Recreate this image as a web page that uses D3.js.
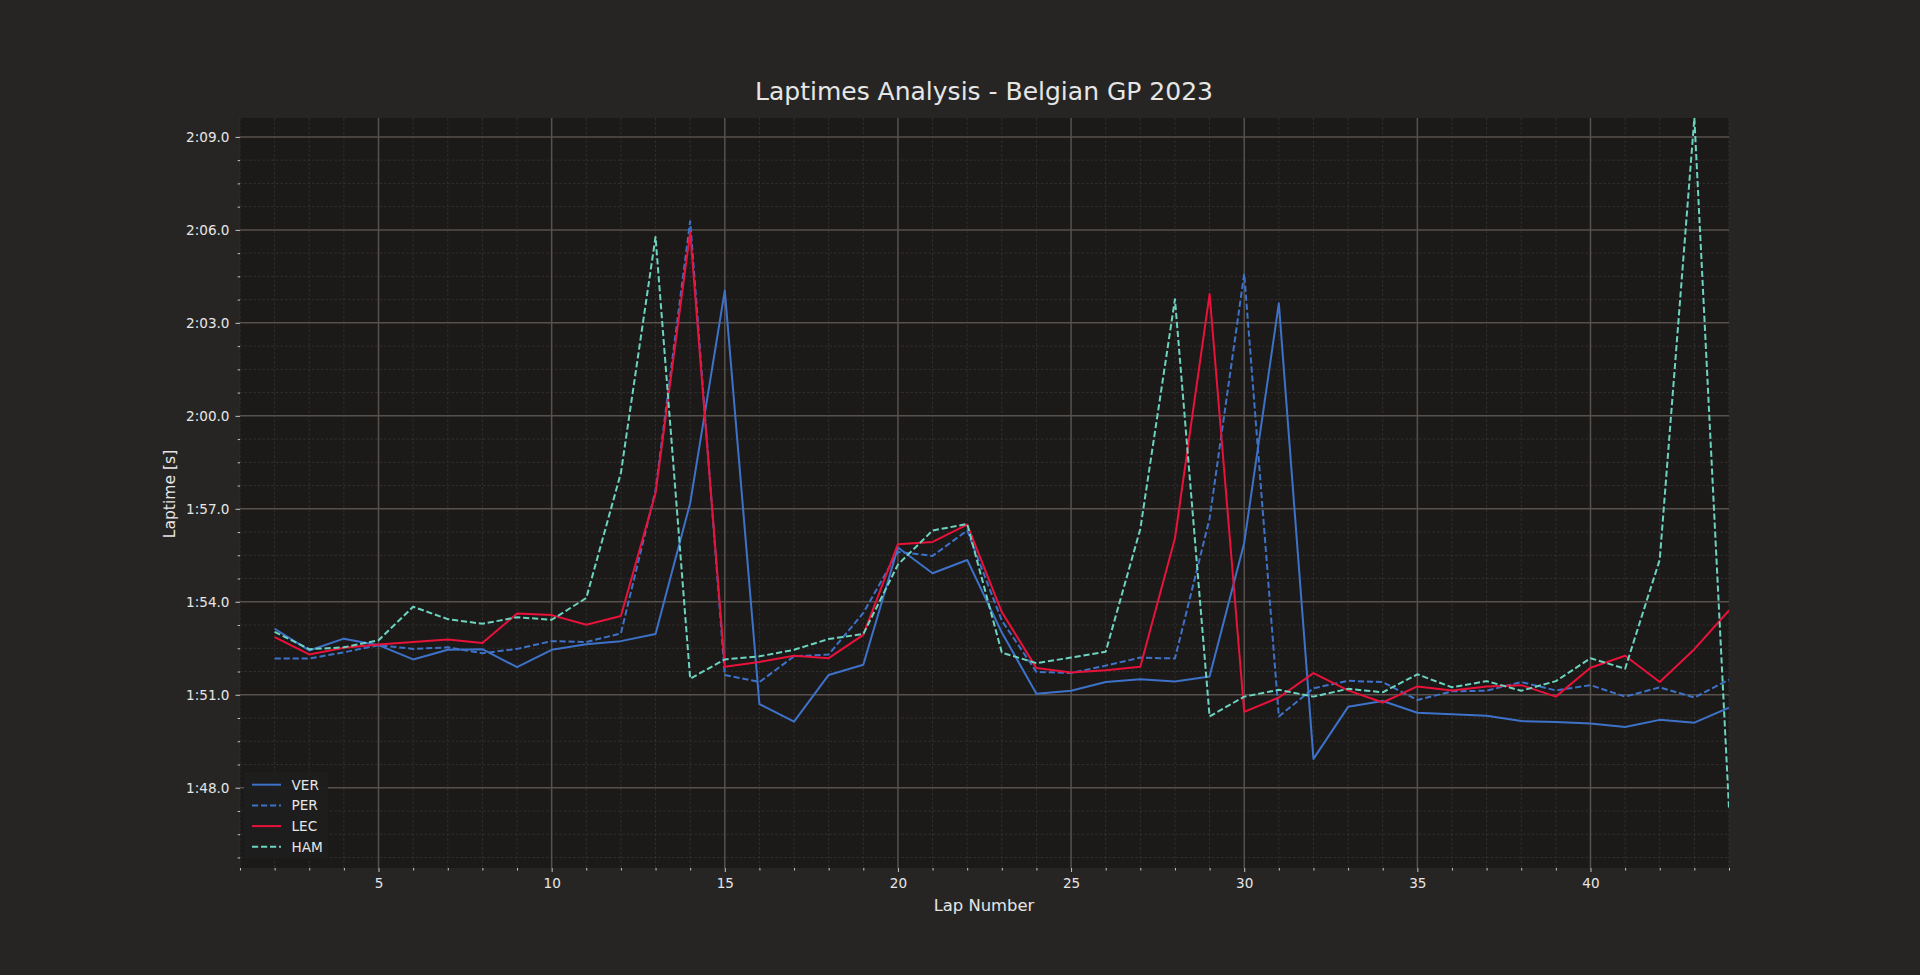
<!DOCTYPE html>
<html>
<head>
<meta charset="utf-8">
<script src="https://cdn.jsdelivr.net/npm/d3@7"></script>
<style>
  html, body { margin: 0; padding: 0; background: #262524; }
  svg { display: block; }
  text { font-family: "DejaVu Sans", sans-serif; fill: #e6e6e6; }
</style>
</head>
<body>
<svg id="chart" width="1920" height="975"></svg>
<script>
// ---------- data ----------
const laps = [2,3,4,5,6,7,8,9,10,11,12,13,14,15,16,17,18,19,20,21,22,23,24,25,26,27,28,29,30,31,32,33,34,35,36,37,38,39,40,41,42,43,44];

const VER = [113.13,112.43,112.81,112.60,112.14,112.45,112.47,111.89,112.45,112.63,112.73,112.96,117.18,124.04,110.70,110.13,111.64,111.97,115.75,114.92,115.35,113.01,111.03,111.13,111.41,111.50,111.43,111.59,115.90,123.63,108.93,110.61,110.80,110.42,110.37,110.32,110.15,110.12,110.07,109.96,110.19,110.10,110.58];
const PER = [112.17,112.17,112.37,112.60,112.48,112.53,112.34,112.48,112.73,112.70,112.98,117.60,126.28,111.64,111.41,112.24,112.30,113.64,115.61,115.48,116.30,113.39,111.74,111.70,111.94,112.20,112.17,116.68,124.58,110.30,111.21,111.45,111.41,110.83,111.11,111.13,111.41,111.14,111.31,110.94,111.24,110.91,111.49];
const LEC = [112.86,112.30,112.52,112.62,112.70,112.78,112.67,113.62,113.57,113.26,113.54,117.50,125.92,111.90,112.06,112.26,112.18,112.93,115.86,115.93,116.49,113.67,111.86,111.72,111.79,111.90,116.05,123.93,110.45,110.91,111.70,111.14,110.75,111.27,111.14,111.27,111.31,110.94,111.87,112.26,111.41,112.47,113.72];
const HAM = [113.03,112.47,112.53,112.76,113.84,113.44,113.29,113.50,113.42,114.12,118.16,125.77,111.52,112.14,112.24,112.45,112.80,112.96,115.20,116.30,116.51,112.36,112.02,112.20,112.39,116.35,123.76,110.30,110.94,111.16,110.94,111.19,111.08,111.66,111.24,111.44,111.13,111.44,112.18,111.84,115.36,129.61,107.32];

const drivers = ["VER", "PER", "LEC", "HAM"];
const xTicks = [5, 10, 15, 20, 25, 30, 35, 40];
const yTicks = [108, 111, 114, 117, 120, 123, 126, 129];

// ---------- styles ----------
const seriesStyle = {
  VER: { values: VER, color: "#3d72c8", dash: null },
  PER: { values: PER, color: "#3d72c8", dash: "6.2,2.8" },
  LEC: { values: LEC, color: "#e8123a", dash: null },
  HAM: { values: HAM, color: "#6cd3bf", dash: "6.2,2.8" }
};

const W = 1920, H = 975;
const m = { left: 240, top: 118, right: 1729, bottom: 868 };
const svg = d3.select("#chart");

svg.append("rect").attr("width", W).attr("height", H).attr("fill", "#262524");
svg.append("rect").attr("x", m.left).attr("y", m.top)
  .attr("width", m.right - m.left).attr("height", m.bottom - m.top)
  .attr("fill", "#1c1a19");

const x = d3.scaleLinear().domain([1, 44]).range([m.left, m.right]);
const y = d3.scaleLinear().domain([105.41, 129.61]).range([m.bottom, m.top]);

const fmt = v => {
  const mins = Math.floor(v / 60);
  const secs = v - mins * 60;
  return mins + ":" + (secs < 10 ? "0" : "") + secs.toFixed(1);
};

// minor ticks
const xMinor = d3.range(1, 45).filter(v => !xTicks.includes(v));
const yMinor = d3.range(105.75, 129.7, 0.75).filter(v => !yTicks.some(t => Math.abs(t - v) < 1e-6));

// minor grid
const grid = svg.append("g");
grid.selectAll(".xmg").data(xMinor).join("line")
  .attr("x1", d => x(d)).attr("x2", d => x(d))
  .attr("y1", m.top).attr("y2", m.bottom)
  .attr("stroke", "#3b3836").attr("stroke-width", 0.7).attr("stroke-dasharray", "2.5,2");
grid.selectAll(".ymg").data(yMinor).join("line")
  .attr("x1", m.left).attr("x2", m.right)
  .attr("y1", d => y(d)).attr("y2", d => y(d))
  .attr("stroke", "#3b3836").attr("stroke-width", 0.7).attr("stroke-dasharray", "2.5,2");
// major grid
grid.selectAll(".xg").data(xTicks).join("line")
  .attr("x1", d => x(d)).attr("x2", d => x(d))
  .attr("y1", m.top).attr("y2", m.bottom)
  .attr("stroke", "#57514d").attr("stroke-width", 1.5);
grid.selectAll(".yg").data(yTicks).join("line")
  .attr("x1", m.left).attr("x2", m.right)
  .attr("y1", d => y(d)).attr("y2", d => y(d))
  .attr("stroke", "#57514d").attr("stroke-width", 1.5);

// axes
const xAxis = svg.append("g").attr("transform", `translate(0,${m.bottom})`)
  .call(d3.axisBottom(x).tickValues(xTicks).tickFormat(d3.format("d")).tickSize(4).tickPadding(6));
const xAxisMinor = svg.append("g").attr("transform", `translate(0,${m.bottom})`)
  .call(d3.axisBottom(x).tickValues(xMinor).tickFormat("").tickSize(2.5));
const yAxis = svg.append("g").attr("transform", `translate(${m.left},0)`)
  .call(d3.axisLeft(y).tickValues(yTicks).tickFormat(fmt).tickSize(4.5).tickPadding(6));
const yAxisMinor = svg.append("g").attr("transform", `translate(${m.left},0)`)
  .call(d3.axisLeft(y).tickValues(yMinor).tickFormat("").tickSize(2.3));

[xAxis, xAxisMinor, yAxis, yAxisMinor].forEach(g => {
  g.select(".domain").remove();
  g.selectAll(".tick line").attr("stroke", "#d8d8d8").attr("stroke-width", 0.9);
  g.selectAll(".tick text").attr("fill", "#e6e6e6").style("font-size", "13.6px")
    .style("font-family", "'DejaVu Sans', sans-serif");
});

// lines
svg.append("clipPath").attr("id", "plotclip").append("rect")
  .attr("x", m.left).attr("y", m.top - 1).attr("width", m.right - m.left).attr("height", m.bottom - m.top + 1);

const lineGen = vals => d3.line().x((d, i) => x(laps[i])).y(d => y(d))(vals);
const lines = svg.append("g").attr("clip-path", "url(#plotclip)");
drivers.forEach(dr => {
  const s = seriesStyle[dr];
  lines.append("path")
    .attr("d", lineGen(s.values))
    .attr("fill", "none")
    .attr("stroke", s.color)
    .attr("stroke-width", 2)
    .attr("stroke-linejoin", "round")
    .attr("stroke-dasharray", s.dash);
});

// legend
const lg = svg.append("g");
lg.append("rect").attr("x", 244).attr("y", 772).attr("width", 84).attr("height", 86)
  .attr("rx", 2).attr("fill", "#1e1d1d").attr("fill-opacity", 0.95);
drivers.forEach((dr, i) => {
  const s = seriesStyle[dr];
  const yy = 784.7 + i * 20.7;
  lg.append("line").attr("x1", 252).attr("x2", 281).attr("y1", yy).attr("y2", yy)
    .attr("stroke", s.color).attr("stroke-width", 2).attr("stroke-dasharray", s.dash);
  lg.append("text").attr("x", 291.5).attr("y", yy + 4.8).style("font-size", "13.6px").text(dr);
});

// labels
svg.append("text").attr("x", 984).attr("y", 100).attr("text-anchor", "middle")
  .style("font-size", "25px").text("Laptimes Analysis - Belgian GP 2023");
svg.append("text").attr("x", 984).attr("y", 910.5).attr("text-anchor", "middle")
  .style("font-size", "16.4px").text("Lap Number");
svg.append("text").attr("transform", "translate(174.5,494) rotate(-90)").attr("text-anchor", "middle")
  .style("font-size", "15.6px").text("Laptime [s]");
</script>
</body>
</html>
